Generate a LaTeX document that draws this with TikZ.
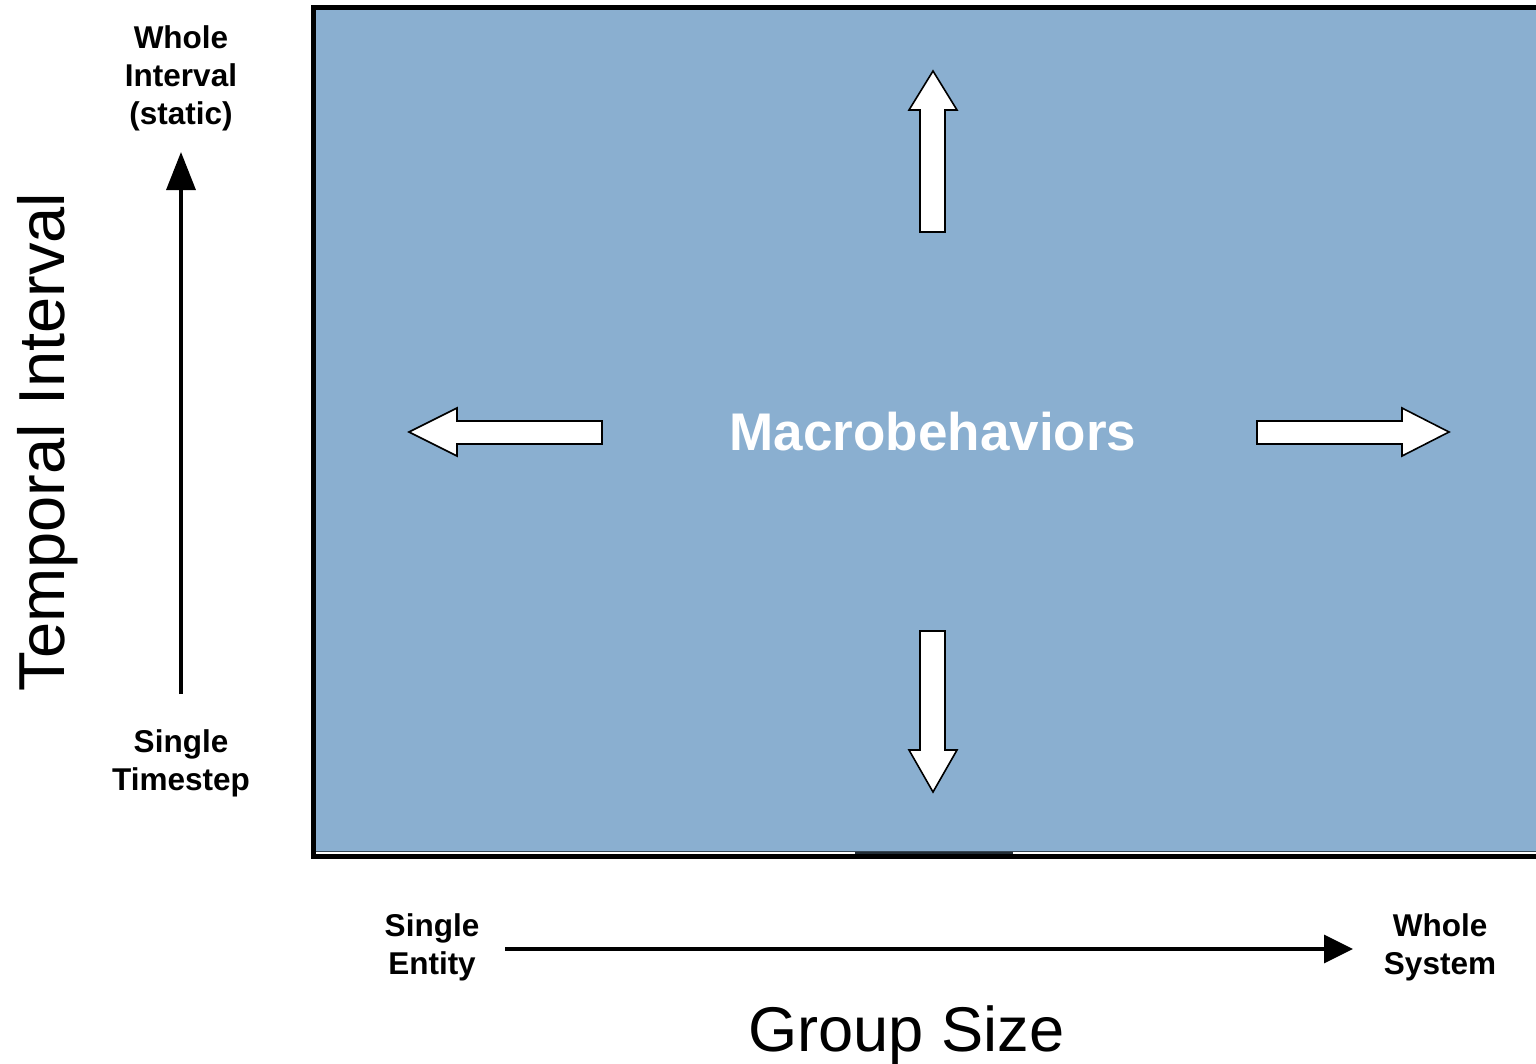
\documentclass[tikz,border=0pt]{standalone}
\usepackage{fontspec}
\setmainfont{Liberation Sans}
\usetikzlibrary{arrows.meta}
\definecolor{panelblue}{RGB}{138,175,208}
\begin{document}
\begin{tikzpicture}[x=1pt,y=-1pt,
  lbl/.style={font=\fontsize{31.5}{38}\selectfont\bfseries, align=center, inner sep=0pt},
  bigarrow/.style={draw=black, fill=white, line width=1.6pt, line join=miter},
  axis/.style={line width=3.5pt}]
\useasboundingbox (0,0) rectangle (1536,1063);
% panel
\fill[panelblue] (316,10) rectangle (1540,852);
\draw[line width=5pt, line join=miter] (1545,7) -- (313.5,7) -- (313.5,856.5) -- (1545,856.5);
\draw[white, line width=1.5pt] (316,853) -- (1540,853);
\draw[black!75!panelblue, line width=1.8pt] (855,853) -- (1013,853);
\draw[black!60!panelblue, line width=0.8pt] (316,851.5) -- (1540,851.5);
% center label
\node[font=\fontsize{53}{60}\selectfont\bfseries, text=white, inner sep=0pt] (macro) at (933,432) {Macrobehaviors};
% block arrows
\draw[bigarrow] (933,71) -- (957,110) -- (945,110) -- (945,232) -- (920,232) -- (920,110) -- (909,110) -- cycle;
\draw[bigarrow] (933,792) -- (957,750) -- (945,750) -- (945,631) -- (920,631) -- (920,750) -- (909,750) -- cycle;
\draw[bigarrow] (409,432) -- (457,408) -- (457,421) -- (602,421) -- (602,444) -- (457,444) -- (457,456) -- cycle;
\draw[bigarrow] (1449,432) -- (1402,408) -- (1402,421) -- (1257,421) -- (1257,444) -- (1402,444) -- (1402,456) -- cycle;
% axis labels
\node[lbl] (wi) at (181,78.5) {Whole\\Interval\\(static)};
\node[lbl] (st) at (181,763) {Single\\Timestep};
\node[lbl] (se) at (432,947.5) {Single\\Entity};
\node[lbl] (ws) at (1440,947.5) {Whole\\System};
\coordinate (vbot) at (181,694);
\coordinate (vtop) at (181,152);
\coordinate (hl) at (505,949);
\coordinate (hr) at (1353,949);
\draw[axis, -{Triangle[length=38pt,width=29pt]}] (vbot) -- (vtop);
\draw[axis, -{Triangle[length=29pt,width=28pt]}] (hl) -- (hr);
\node[font=\fontsize{65}{70}\selectfont, rotate=90, anchor=base, inner sep=0pt] (ti) at (64,442) {Temporal Interval};
\node[font=\fontsize{63.2}{70}\selectfont, anchor=base, inner sep=0pt] (gs) at (906.5,1051) {Group Size};
\end{tikzpicture}
\end{document}
